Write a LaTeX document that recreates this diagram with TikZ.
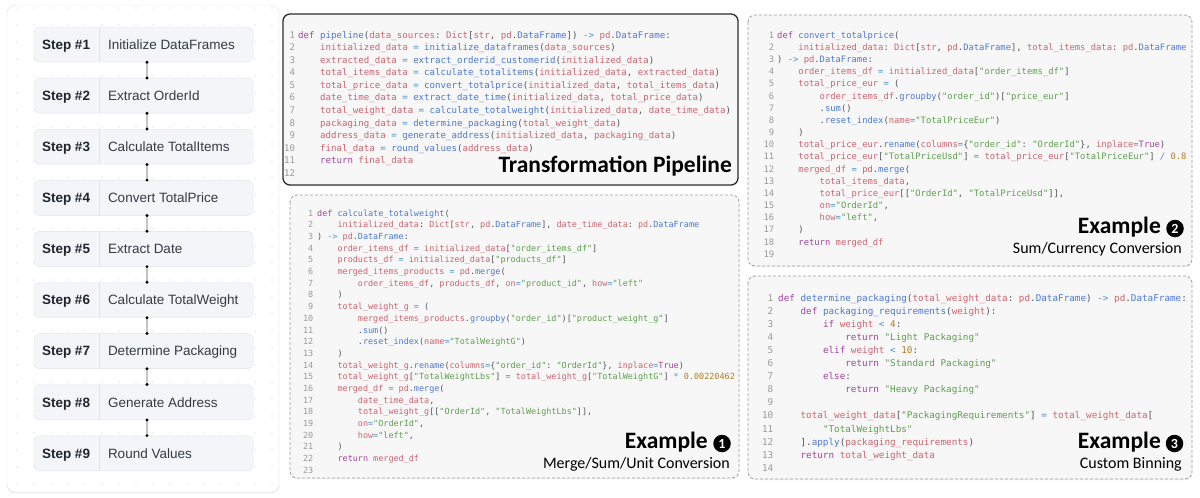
\documentclass[tikz,border=0pt]{standalone}
\usepackage{fontspec}
\setmonofont{DejaVu Sans Mono}
\newfontfamily\calib{Carlito}
\newfontfamily\uisans{Liberation Sans}
\usetikzlibrary{shadows,calc}
\definecolor{ckw}{HTML}{A0449F}
\definecolor{cfn}{HTML}{4D78CC}
\definecolor{cvar}{HTML}{C9646F}
\definecolor{cstr}{HTML}{5E9E50}
\definecolor{cnum}{HTML}{B07D1E}
\definecolor{cop}{HTML}{4A8FC2}
\definecolor{cpun}{HTML}{50555C}
\definecolor{cln}{HTML}{9A9A9A}
\definecolor{codefill}{HTML}{F7F7F7}
\definecolor{stepfill}{HTML}{F3F5F9}
\definecolor{stepline}{HTML}{E0E4EA}
\definecolor{steptxt}{HTML}{1F2530}
\definecolor{dotc}{HTML}{C8CCD2}
\definecolor{linkc}{HTML}{C4C4C4}
\newcommand\Kw[1]{\textcolor{ckw}{#1}}
\newcommand\Fn[1]{\textcolor{cfn}{#1}}
\newcommand\Vr[1]{\textcolor{cvar}{#1}}
\newcommand\Sq[1]{\textcolor{cstr}{#1}}
\newcommand\Nu[1]{\textcolor{cnum}{#1}}
\newcommand\Opr[1]{\textcolor{cop}{#1}}
\newcommand\Ind[1]{\hspace*{#1\fontcharwd\font`\x}}
\newcommand\LN[1]{\makebox[\numw][r]{\textcolor{cln}{#1}}\hspace*{\numgap}}
\newcommand\FirstStrut{\rule{0pt}{9pt}}
\tikzset{
  panel/.style={draw=black!10, fill=white, rounded corners=8pt,
    drop shadow={opacity=0.12, shadow xshift=0pt, shadow yshift=-1.5pt}},
  stepbox/.style={draw=stepline, fill=stepfill, rounded corners=5pt,
    minimum width=219pt, minimum height=35pt, inner sep=0pt},
  stepname/.style={font=\uisans\bfseries\fontsize{13.5}{15}\selectfont,
    text=steptxt, anchor=base west, inner sep=0pt},
  steplabel/.style={font=\uisans\fontsize{13.5}{15}\selectfont,
    text=steptxt!90, anchor=base west, inner sep=0pt},
  divider/.style={draw=stepline, line width=0.8pt},
  link/.style={draw=linkc, line width=1.2pt},
  codebox/.style={fill=codefill, rounded corners=7pt,
    drop shadow={opacity=0.10, shadow xshift=0pt, shadow yshift=-1.2pt}},
  pipebox/.style={codebox, draw=black!82, line width=1.3pt},
  exbox/.style={codebox, draw=black!38, dash pattern=on 3pt off 2pt, line width=0.8pt},
  code/.style={anchor=north west, inner sep=0pt, align=left, text=cpun},
  bigtitle/.style={font=\calib\bfseries\fontsize{23.5}{26}\selectfont,
    inner sep=0pt, text=black, anchor=base east},
  subtitle/.style={font=\calib\fontsize{16}{18}\selectfont,
    inner sep=0pt, text=black, anchor=base east},
  numcirc/.style={circle, fill=black, text=white, minimum size=17.5pt,
    inner sep=0pt, font=\calib\bfseries\fontsize{14}{14}\selectfont}
}
\catcode`\_=12
\begin{document}
\begin{tikzpicture}[x=1pt,y=-1pt]
\useasboundingbox (0,0) rectangle (1200,498);
\fill[white] (0,0) rectangle (1200,498);

% ---------------- left panel ----------------
\path[panel] (7,5) rectangle (279,492);
\foreach \i in {0,...,15}{\foreach \j in {0,...,28}{
  \fill[dotc] (17+17*\i,8+17*\j) circle[radius=0.7pt];}}

\foreach \i/\t in {1/Initialize DataFrames,2/Extract OrderId,3/Calculate TotalItems,
  4/Convert TotalPrice,5/Extract Date,6/Calculate TotalWeight,7/Determine Packaging,
  8/Generate Address,9/Round Values}{
  \node[stepbox] (s\i) at (143.5,44.5+51.1*\i-51.1) {};
  \draw[divider] ($(s\i.north west)+(65.5,0)$) -- ($(s\i.south west)+(65.5,0)$);
  \node[stepname] (n\i) at ($(s\i.west)+(8,4.8)$) {Step \#\i};
  \node[steplabel] (t\i) at ($(s\i.west)+(74,4.8)$) {\t};
}
\foreach \i in {1,...,8}{
  \pgfmathtruncatemacro\j{\i+1}
  \draw[link] ([xshift=3.5pt]s\i.south) -- ([xshift=3.5pt]s\j.north);
  \fill[black] ([xshift=3.5pt]s\i.south) circle[radius=1.6pt];
  \fill[black] ([xshift=3.5pt]s\j.north) circle[radius=1.6pt];
}

% ---------------- pipeline ----------------
\path[pipebox] (283,14) rectangle (738,185);
\def\numw{11pt}\def\numgap{3pt}
\node[code, font=\ttfamily\fontsize{9.1}{12.55}\selectfont\frenchspacing] (pcode) at (284,29) {%
\FirstStrut\LN{1}\Kw{def} \Fn{pipeline}(\Vr{data_sources}: \Vr{Dict}[\Vr{str}, \Vr{pd}.\Fn{DataFrame}]) \Opr{->} \Vr{pd}.\Fn{DataFrame}:\\
\LN{2}\Ind{4}\Vr{initialized_data} \Opr{=} \Fn{initialize_dataframes}(\Vr{data_sources})\\
\LN{3}\Ind{4}\Vr{extracted_data} \Opr{=} \Fn{extract_orderid_customerid}(\Vr{initialized_data})\\
\LN{4}\Ind{4}\Vr{total_items_data} \Opr{=} \Fn{calculate_totalitems}(\Vr{initialized_data}, \Vr{extracted_data})\\
\LN{5}\Ind{4}\Vr{total_price_data} \Opr{=} \Fn{convert_totalprice}(\Vr{initialized_data}, \Vr{total_items_data})\\
\LN{6}\Ind{4}\Vr{date_time_data} \Opr{=} \Fn{extract_date_time}(\Vr{initialized_data}, \Vr{total_price_data})\\
\LN{7}\Ind{4}\Vr{total_weight_data} \Opr{=} \Fn{calculate_totalweight}(\Vr{initialized_data}, \Vr{date_time_data})\\
\LN{8}\Ind{4}\Vr{packaging_data} \Opr{=} \Fn{determine_packaging}(\Vr{total_weight_data})\\
\LN{9}\Ind{4}\Vr{address_data} \Opr{=} \Fn{generate_address}(\Vr{initialized_data}, \Vr{packaging_data})\\
\LN{10}\Ind{4}\Vr{final_data} \Opr{=} \Fn{round_values}(\Vr{address_data})\\
\LN{11}\Ind{4}\Kw{return} \Vr{final_data}\\
\LN{12}};
\node[bigtitle] (ptitle) at (732,172) {Transformation Pipeline};

% ---------------- example 1 ----------------
\path[exbox] (290,195) rectangle (739,478);
\def\numw{10.2pt}\def\numgap{4pt}
\node[code, font=\ttfamily\fontsize{8.46}{11.68}\selectfont\frenchspacing] (e1code) at (302.8,207) {%
\FirstStrut\LN{1}\Kw{def} \Fn{calculate_totalweight}(\\
\LN{2}\Ind{4}\Vr{initialized_data}: \Vr{Dict}[\Vr{str}, \Vr{pd}.\Fn{DataFrame}], \Vr{date_time_data}: \Vr{pd}.\Fn{DataFrame}\\
\LN{3}) \Opr{->} \Vr{pd}.\Fn{DataFrame}:\\
\LN{4}\Ind{4}\Vr{order_items_df} \Opr{=} \Vr{initialized_data}[\Sq{"order_items_df"}]\\
\LN{5}\Ind{4}\Vr{products_df} \Opr{=} \Vr{initialized_data}[\Sq{"products_df"}]\\
\LN{6}\Ind{4}\Vr{merged_items_products} \Opr{=} \Vr{pd}.\Fn{merge}(\\
\LN{7}\Ind{8}\Vr{order_items_df}, \Vr{products_df}, \Vr{on}\Opr{=}\Sq{"product_id"}, \Vr{how}\Opr{=}\Sq{"left"}\\
\LN{8}\Ind{4})\\
\LN{9}\Ind{4}\Vr{total_weight_g} \Opr{=} (\\
\LN{10}\Ind{8}\Vr{merged_items_products}.\Fn{groupby}(\Sq{"order_id"})[\Sq{"product_weight_g"}]\\
\LN{11}\Ind{8}.\Fn{sum}()\\
\LN{12}\Ind{8}.\Fn{reset_index}(\Vr{name}\Opr{=}\Sq{"TotalWeightG"})\\
\LN{13}\Ind{4})\\
\LN{14}\Ind{4}\Vr{total_weight_g}.\Fn{rename}(\Vr{columns}\Opr{=}\{\Sq{"order_id"}: \Sq{"OrderId"}\}, \Vr{inplace}\Opr{=}\Kw{True})\\
\LN{15}\Ind{4}\Vr{total_weight_g}[\Sq{"TotalWeightLbs"}] \Opr{=} \Vr{total_weight_g}[\Sq{"TotalWeightG"}] \Opr{*} \Nu{0.00220462}\\
\LN{16}\Ind{4}\Vr{merged_df} \Opr{=} \Vr{pd}.\Fn{merge}(\\
\LN{17}\Ind{8}\Vr{date_time_data},\\
\LN{18}\Ind{8}\Vr{total_weight_g}[[\Sq{"OrderId"}, \Sq{"TotalWeightLbs"}]],\\
\LN{19}\Ind{8}\Vr{on}\Opr{=}\Sq{"OrderId"},\\
\LN{20}\Ind{8}\Vr{how}\Opr{=}\Sq{"left"},\\
\LN{21}\Ind{4})\\
\LN{22}\Ind{4}\Kw{return} \Vr{merged_df}\\
\LN{23}};
\node[bigtitle] (e1t) at (708,448) {Example};
\node[numcirc] (e1n) at (722,443.5) {1};
\node[subtitle] (e1s) at (730,468) {Merge/Sum/Unit Conversion};

% ---------------- example 2 ----------------
\path[exbox] (748,15) rectangle (1192,266);
\def\numw{10.6pt}\def\numgap{3pt}
\node[code, font=\ttfamily\fontsize{8.83}{12.17}\selectfont\frenchspacing] (e2code) at (763.4,29) {%
\FirstStrut\LN{1}\Kw{def} \Fn{convert_totalprice}(\\
\LN{2}\Ind{4}\Vr{initialized_data}: \Vr{Dict}[\Vr{str}, \Vr{pd}.\Fn{DataFrame}], \Vr{total_items_data}: \Vr{pd}.\Fn{DataFrame}\\
\LN{3}) \Opr{->} \Vr{pd}.\Fn{DataFrame}:\\
\LN{4}\Ind{4}\Vr{order_items_df} \Opr{=} \Vr{initialized_data}[\Sq{"order_items_df"}]\\
\LN{5}\Ind{4}\Vr{total_price_eur} \Opr{=} (\\
\LN{6}\Ind{8}\Vr{order_items_df}.\Fn{groupby}(\Sq{"order_id"})[\Sq{"price_eur"}]\\
\LN{7}\Ind{8}.\Fn{sum}()\\
\LN{8}\Ind{8}.\Fn{reset_index}(\Vr{name}\Opr{=}\Sq{"TotalPriceEur"})\\
\LN{9}\Ind{4})\\
\LN{10}\Ind{4}\Vr{total_price_eur}.\Fn{rename}(\Vr{columns}\Opr{=}\{\Sq{"order_id"}: \Sq{"OrderId"}\}, \Vr{inplace}\Opr{=}\Kw{True})\\
\LN{11}\Ind{4}\Vr{total_price_eur}[\Sq{"TotalPriceUsd"}] \Opr{=} \Vr{total_price_eur}[\Sq{"TotalPriceEur"}] \Opr{/} \Nu{0.8}\\
\LN{12}\Ind{4}\Vr{merged_df} \Opr{=} \Vr{pd}.\Fn{merge}(\\
\LN{13}\Ind{8}\Vr{total_items_data},\\
\LN{14}\Ind{8}\Vr{total_price_eur}[[\Sq{"OrderId"}, \Sq{"TotalPriceUsd"}]],\\
\LN{15}\Ind{8}\Vr{on}\Opr{=}\Sq{"OrderId"},\\
\LN{16}\Ind{8}\Vr{how}\Opr{=}\Sq{"left"},\\
\LN{17}\Ind{4})\\
\LN{18}\Ind{4}\Kw{return} \Vr{merged_df}\\
\LN{19}};
\node[bigtitle] (e2t) at (1161,233) {Example};
\node[numcirc] (e2n) at (1175,228.5) {2};
\node[subtitle] (e2s) at (1182,253) {Sum/Currency Conversion};

% ---------------- example 3 ----------------
\path[exbox] (748,276) rectangle (1192,479);
\def\numw{11.2pt}\def\numgap{5pt}
\node[code, font=\ttfamily\fontsize{9.3}{13.08}\selectfont\frenchspacing] (e3code) at (761.8,292) {%
\FirstStrut\LN{1}\Kw{def} \Fn{determine_packaging}(\Vr{total_weight_data}: \Vr{pd}.\Fn{DataFrame}) \Opr{->} \Vr{pd}.\Fn{DataFrame}:\\
\LN{2}\Ind{4}\Kw{def} \Fn{packaging_requirements}(\Vr{weight}):\\
\LN{3}\Ind{8}\Kw{if} \Vr{weight} \Opr{<} \Nu{4}:\\
\LN{4}\Ind{12}\Kw{return} \Sq{"Light Packaging"}\\
\LN{5}\Ind{8}\Kw{elif} \Vr{weight} \Opr{<} \Nu{10}:\\
\LN{6}\Ind{12}\Kw{return} \Sq{"Standard Packaging"}\\
\LN{7}\Ind{8}\Kw{else}:\\
\LN{8}\Ind{12}\Kw{return} \Sq{"Heavy Packaging"}\\
\LN{9}\\
\LN{10}\Ind{4}\Vr{total_weight_data}[\Sq{"PackagingRequirements"}] \Opr{=} \Vr{total_weight_data}[\\
\LN{11}\Ind{8}\Sq{"TotalWeightLbs"}\\
\LN{12}\Ind{4}].\Fn{apply}(\Vr{packaging_requirements})\\
\LN{13}\Ind{4}\Kw{return} \Vr{total_weight_data}\\
\LN{14}};
\node[bigtitle] (e3t) at (1161,448) {Example};
\node[numcirc] (e3n) at (1174.5,443.5) {3};
\node[subtitle] (e3s) at (1182,468) {Custom Binning};
\end{tikzpicture}
\end{document}
